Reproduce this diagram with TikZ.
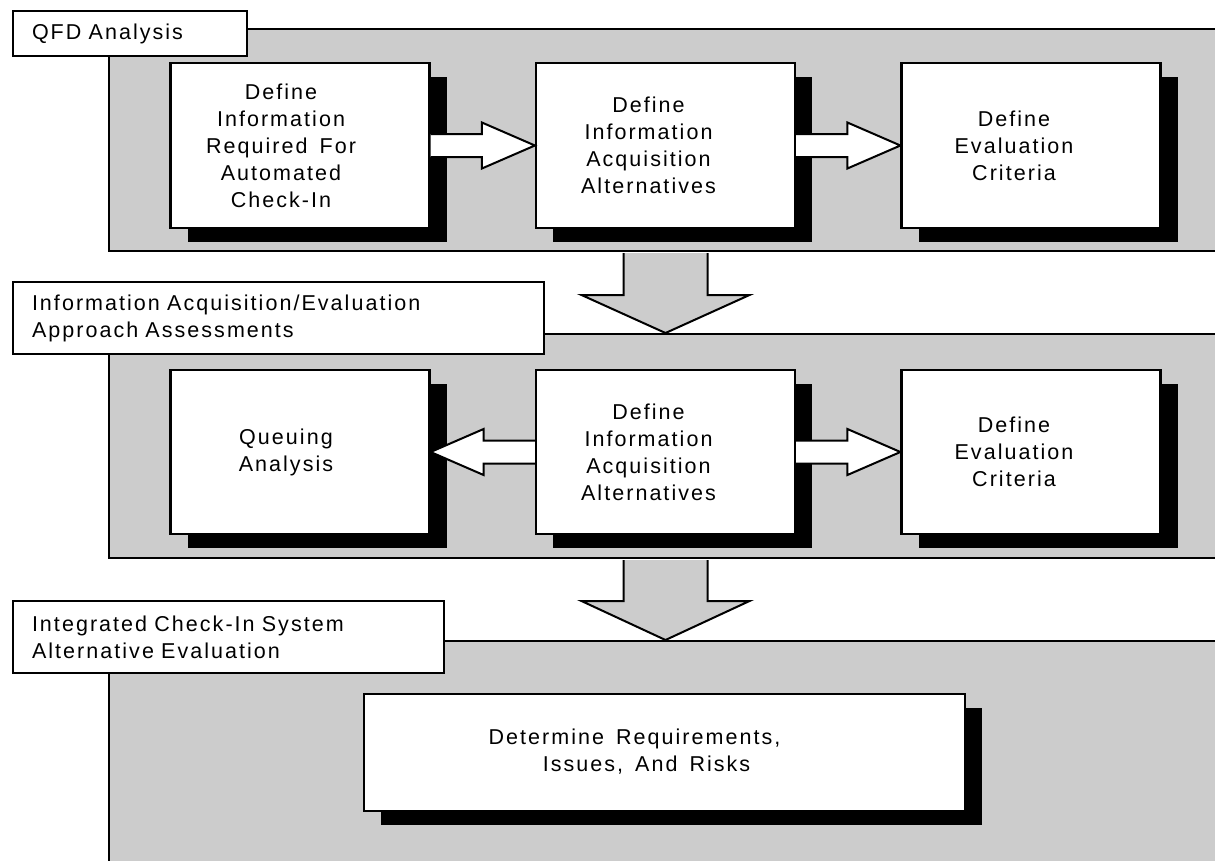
\documentclass[tikz,border=0pt]{standalone}
\usepackage{fontspec}
\newfontfamily\dfont{Liberation Sans}[LetterSpace=9.5, WordSpace=1.5]
\usetikzlibrary{calc,shadows}
\definecolor{panelgray}{RGB}{204,204,204}
\newcommand\txt{\fontsize{21.5}{27}\selectfont\dfont}
\tikzset{
  panel/.style={draw=black, line width=2pt, fill=panelgray, anchor=north west, inner sep=0pt, minimum width=1120pt},
  tagbox/.style={draw=black, line width=2pt, fill=white, anchor=north west,
    inner xsep=19pt, inner ysep=0pt, align=left, text width=#1, font=\txt},
  stepbox/.style={draw=black, line width=2.2pt, fill=white, inner sep=0pt,
    minimum width=259pt, minimum height=165pt,
    general shadow={fill=black, shadow xshift=17pt, shadow yshift=-14pt}},
  boxtext/.style={align=center, font=\txt, inner sep=0pt},
  flowarrow/.style={draw=black, line width=2pt, fill=white, line join=miter},
  downarrow/.style={draw=black, line width=2pt, fill=panelgray, line join=miter},
}
\begin{document}
\begin{tikzpicture}[x=1pt,y=-1pt]
\useasboundingbox (0,0) rectangle (1215,860);
\clip (0,0) rectangle (1215,860);

% the three stage panels
\node[panel, minimum height=222pt] (p1) at (108,28) {};
\node[panel, minimum height=224pt] (p2) at (108,333) {};
\node[panel, minimum height=240pt] (p3) at (108,640) {};

% stage titles
\node[tagbox=196pt, minimum height=45pt] (l1) at (12,10) {QFD Analysis};
\node[tagbox=493pt, minimum height=72pt] (l2) at (12,281) {Information Acquisition/Evaluation\\Approach Assessments};
\node[tagbox=393pt, minimum height=72pt] (l3) at (12,600) {Integrated Check-In System\\Alternative Evaluation};

% process boxes
\node[stepbox] (b1) at (300,145.5) {};
\node[stepbox] (b2) at (665.5,145.5) {};
\node[stepbox] (b3) at (1031,145.5) {};
\node[stepbox, minimum height=164pt] (b4) at (300,452) {};
\node[stepbox, minimum height=164pt] (b5) at (665.5,452) {};
\node[stepbox, minimum height=164pt] (b6) at (1031,452) {};
\node[stepbox, minimum width=601pt, minimum height=117pt] (b7) at (664.5,752.5) {};

% box texts
\node[boxtext] (t1) at ($(b1)+(-19,0)$) {Define\\Information\\Required For\\Automated\\Check-In};
\node[boxtext] (t2) at ($(b2)+(-17,0)$) {Define\\Information\\Acquisition\\Alternatives};
\node[boxtext] (t3) at ($(b3)+(-17,0)$) {Define\\Evaluation\\Criteria};
\node[boxtext] (t4) at ($(b4)+(-14,0)$) {Queuing\\Analysis};
\node[boxtext] (t5) at ($(b5)+(-17,0)$) {Define\\Information\\Acquisition\\Alternatives};
\node[boxtext] (t6) at ($(b6)+(-17,0)$) {Define\\Evaluation\\Criteria};
\node[boxtext] (t7) at ($(b7)+(-30,-1)$) {Determine Requirements,\\\hspace*{24pt}Issues, And Risks};

% block arrows between boxes
\draw[flowarrow] ($(b1.east)+(0,-11.5)$) -- ($(b2.west)+(-53,-11.5)$) -- ($(b2.west)+(-53,-23)$)
  -- (b2.west) -- ($(b2.west)+(-53,23)$) -- ($(b2.west)+(-53,11.5)$) -- ($(b1.east)+(0,11.5)$);
\draw[flowarrow] ($(b2.east)+(0,-11.5)$) -- ($(b3.west)+(-53,-11.5)$) -- ($(b3.west)+(-53,-23)$)
  -- (b3.west) -- ($(b3.west)+(-53,23)$) -- ($(b3.west)+(-53,11.5)$) -- ($(b2.east)+(0,11.5)$);
\draw[flowarrow] ($(b5.west)+(0,-11.5)$) -- ($(b4.east)+(53,-11.5)$) -- ($(b4.east)+(53,-23)$)
  -- (b4.east) -- ($(b4.east)+(53,23)$) -- ($(b4.east)+(53,11.5)$) -- ($(b5.west)+(0,11.5)$);
\draw[flowarrow] ($(b5.east)+(0,-11.5)$) -- ($(b6.west)+(-53,-11.5)$) -- ($(b6.west)+(-53,-23)$)
  -- (b6.west) -- ($(b6.west)+(-53,23)$) -- ($(b6.west)+(-53,11.5)$) -- ($(b5.east)+(0,11.5)$);

% block arrows between stages
\draw[downarrow] ($(b2 |- p1.south)+(-42,1)$) -- ($(b2 |- p1.south)+(-42,43)$) -- ($(b2 |- p1.south)+(-84,43)$)
  -- (b2 |- p2.north) -- ($(b2 |- p1.south)+(84,43)$) -- ($(b2 |- p1.south)+(42,43)$) -- ($(b2 |- p1.south)+(42,1)$);
\draw[downarrow] ($(b5 |- p2.south)+(-42,1)$) -- ($(b5 |- p2.south)+(-42,42)$) -- ($(b5 |- p2.south)+(-84,42)$)
  -- (b5 |- p3.north) -- ($(b5 |- p2.south)+(84,42)$) -- ($(b5 |- p2.south)+(42,42)$) -- ($(b5 |- p2.south)+(42,1)$);
\end{tikzpicture}
\end{document}
